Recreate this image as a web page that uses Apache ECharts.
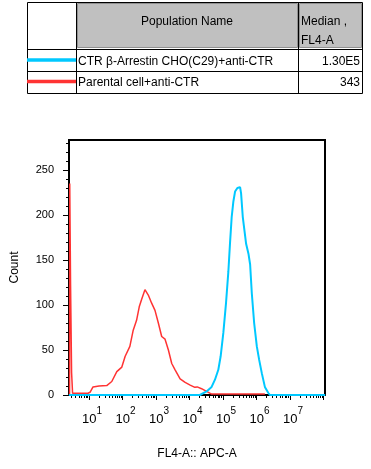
<!DOCTYPE html>
<html><head><meta charset="utf-8">
<script src="https://cdn.jsdelivr.net/npm/echarts@6/dist/echarts.min.js"></script>
<style>html,body{margin:0;padding:0;background:#fff}#c{width:371px;height:469px}</style>
</head><body><div id="c"></div>
<script>
// log10(FL4-A) positions and counts
const redX = [0.42,0.425,0.445,0.45,0.475,0.48,0.50,0.51,0.70,0.97,1.03,1.12,1.30,1.33,1.53,1.68,1.83,1.98,2.08,2.22,2.32,2.42,2.50,2.57,2.67,2.77,2.87,2.97,3.07,3.17,3.27,3.37,3.47,3.57,3.72,3.87,4.02,4.16,4.23,4.36,4.51,4.66,5.00,6.25];
const redY = [0,235,235,122,122,25,25,2,2,2,3,9,10,9.5,10.5,15,26,31,43,54,72,83,98,106,117,111,102,94,80,65,62,50,35,28,18,14,11,8.5,9,7,4,1,1,1];
const cyanX = [0.40,4.31,4.51,4.66,4.76,4.86,4.93,5.01,5.09,5.16,5.21,5.26,5.31,5.36,5.43,5.51,5.54,5.59,5.64,5.69,5.76,5.81,5.86,5.93,6.01,6.08,6.16,6.25,6.35,6.40,8.05];
const cyanY = [0,0,4,9,17,28,43,69,102,137,169,198,215,226,230,231,224,198,183,168,157,145,113,80,54,39,24,9,2.5,0,0];
const xMajor = [1,2,3,4,5,6,7];
const yMajor = [0,50,100,150,200,250];
const populations = ['CTR β-Arrestin CHO(C29)+anti-CTR','Parental cell+anti-CTR'];
const medians = ['1.30E5','343'];
const popColors = ['#00c8ff','#ff3333'];

const X_MIN = 0.403, X_MAX = 8.045, Y_MAX = 283.3;
const xMinor = [];
for (let n = 0; n <= 8; n++) for (let k = 2; k <= 9; k++) { const v = n + Math.log10(k); if (v > X_MIN && v < X_MAX) xMinor.push(v); }
const yMinor = [];
for (let v = 0; v <= 280; v += 10) yMinor.push(v);

const FONT = 'Liberation Sans, Arial, sans-serif';
const chart = echarts.init(document.getElementById('c'), null, {renderer:'canvas'});

const g = [];
// table
g.push({type:'rect', shape:{x:27.5,y:2.5,width:335,height:91}, style:{fill:'#fff',stroke:'#000',lineWidth:1}});
g.push({type:'rect', shape:{x:77.5,y:3.5,width:220,height:44}, style:{fill:'#c0c0c0',stroke:'#909090',lineWidth:1}});
g.push({type:'rect', shape:{x:299.5,y:3.5,width:62,height:44}, style:{fill:'#c0c0c0',stroke:'#909090',lineWidth:1}});
g.push({type:'line', shape:{x1:27,y1:49.5,x2:363,y2:49.5}, style:{stroke:'#000',lineWidth:1}});
g.push({type:'line', shape:{x1:27,y1:71.5,x2:363,y2:71.5}, style:{stroke:'#000',lineWidth:1}});
g.push({type:'line', shape:{x1:76.5,y1:2,x2:76.5,y2:94}, style:{stroke:'#000',lineWidth:1}});
g.push({type:'line', shape:{x1:298.5,y1:2,x2:298.5,y2:94}, style:{stroke:'#000',lineWidth:1}});
g.push({type:'text', x:187, y:22, style:{text:'Population Name', font:'12px '+FONT, fill:'#000', align:'center', verticalAlign:'middle'}});
g.push({type:'text', x:301, y:22, style:{text:'Median ,', font:'12px '+FONT, fill:'#000', align:'left', verticalAlign:'middle'}});
g.push({type:'text', x:301, y:41, style:{text:'FL4-A', font:'12px '+FONT, fill:'#000', align:'left', verticalAlign:'middle'}});
const rowY = [61.5, 82.5], lineY = [60, 81.5];
populations.forEach((p,i)=>{
  g.push({type:'line', shape:{x1:27,y1:lineY[i],x2:76,y2:lineY[i]}, style:{stroke:popColors[i],lineWidth:3.5}});
  g.push({type:'text', x:78, y:rowY[i], style:{text:p, font:'12px '+FONT, fill:'#000', align:'left', verticalAlign:'middle'}});
  g.push({type:'text', x:360, y:rowY[i], style:{text:medians[i], font:'12px '+FONT, fill:'#000', align:'right', verticalAlign:'middle'}});
});

const option = {
  animation:false,
  backgroundColor:'#fff',
  textStyle:{fontFamily:FONT},
  grid:{left:69, right:46, top:140, height:255, show:true, borderColor:'#000', borderWidth:2, backgroundColor:'transparent'},
  xAxis:[
    {type:'value', min:X_MIN, max:X_MAX, position:'bottom',
     name:'FL4-A:: APC-A', nameLocation:'middle', nameGap:53, nameTextStyle:{fontSize:12, color:'#000', fontFamily:FONT},
     axisLine:{show:true, lineStyle:{color:'#000', width:2}},
     axisTick:{show:true, length:5, lineStyle:{color:'#000', width:1}, customValues:[1,2,3,4,5,6,7,8]},
     axisLabel:{show:true, margin:11, customValues:xMajor,
       formatter:v=>'{p|}{b|10}{s|'+Math.round(v)+'}',
       rich:{p:{width:6, lineHeight:20}, b:{fontSize:13, color:'#000', lineHeight:20, verticalAlign:'bottom', fontFamily:FONT}, s:{fontSize:10, color:'#000', lineHeight:10, verticalAlign:'top', fontFamily:FONT}}},
     splitLine:{show:false}},
    {type:'value', min:X_MIN, max:X_MAX, position:'bottom',
     axisLine:{show:false}, axisLabel:{show:false}, splitLine:{show:false},
     axisTick:{show:true, length:3, lineStyle:{color:'#000', width:1}, customValues:xMinor}}
  ],
  yAxis:[
    {type:'value', min:0, max:Y_MAX, position:'left',
     name:'Count', nameLocation:'middle', nameGap:48, nameTextStyle:{fontSize:12, color:'#000', fontFamily:FONT},
     axisLine:{show:true, lineStyle:{color:'#000', width:2}},
     axisTick:{show:true, length:6, lineStyle:{color:'#000', width:1}, customValues:yMajor},
     axisLabel:{show:true, margin:15, fontSize:11, color:'#000', customValues:yMajor},
     splitLine:{show:false}},
    {type:'value', min:0, max:Y_MAX, position:'left',
     axisLine:{show:false}, axisLabel:{show:false}, splitLine:{show:false},
     axisTick:{show:true, length:3, lineStyle:{color:'#000', width:1}, customValues:yMinor}}
  ],
  series:[
    {type:'line', name:populations[1], xAxisIndex:0, yAxisIndex:0, data:redX.map((x,i)=>[x,redY[i]]), showSymbol:false, lineStyle:{color:popColors[1], width:1.5}, z:2},
    {type:'line', name:populations[0], xAxisIndex:0, yAxisIndex:0, data:cyanX.map((x,i)=>[x,cyanY[i]]), showSymbol:false, lineStyle:{color:popColors[0], width:2}, z:3}
  ],
  graphic:g
};
chart.setOption(option);
</script>
</body></html>
